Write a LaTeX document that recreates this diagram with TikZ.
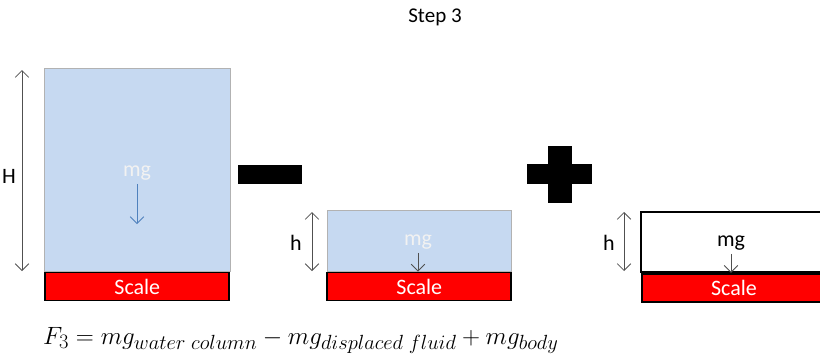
\documentclass[tikz,border=0pt]{standalone}
\usepackage{fix-cm}
\usepackage[no-math]{fontspec}
\setmainfont{Carlito}
\DeclareMathSizes{25}{25}{20.5}{15}
\usetikzlibrary{positioning,arrows.meta}
\definecolor{waterblue}{HTML}{C6D9F1}
\definecolor{scalered}{HTML}{FF0000}
\definecolor{dimgray}{HTML}{505050}
\definecolor{forceblue}{HTML}{4F81BD}

\begin{document}
\begin{tikzpicture}[
  x=1pt, y=-1pt,
  font=\fontsize{22}{26}\selectfont,
  water/.style={rectangle, draw=black!30, line width=0.6pt, fill=waterblue, inner sep=0pt},
  body/.style={rectangle, draw=black, line width=1.8pt, fill=white, inner sep=0pt},
  scalebox/.style={rectangle, draw=black, line width=1.8pt, fill=scalered, text=white, inner sep=0pt, minimum width=184pt, minimum height=28pt},
  dim/.style={{Straight Barb[length=2.4mm]}-{Straight Barb[length=2.4mm]}, draw=dimgray, line width=0.8pt},
  fl/.style={-{Straight Barb[length=2.4mm]}, line width=0.8pt},
  sign/.style={rectangle, fill=black, inner sep=0pt}
]
\clip (0,0) rectangle (820,354);
\node[font=\fontsize{21}{25}\selectfont] (title) at (435,17) {Step 3};
\node[water, minimum width=186pt, minimum height=203pt, anchor=north west] (col) at (44,68) {};
\node[scalebox, below=0pt of col] (sc1) {Scale};
\node[water, minimum width=184pt, minimum height=61pt, anchor=north west] (disp) at (327,210) {};
\node[scalebox, below=0pt of disp] (sc2) {Scale};
\node[body, minimum width=186pt, minimum height=60pt, anchor=north west] (bdy) at (640,211) {};
\node[scalebox, below=0pt of bdy] (sc3) {Scale};
\node[text=white!95!black] (mg1) at (137,173) {mg};
\node[text=white!95!black] (mg2) at (418,242) {mg};
\node (mg3) at (731,243) {mg};
\coordinate (f1) at (137,224);
\draw[fl, forceblue] (mg1) -- (f1);
\draw[fl, dimgray] (mg2) -- (mg2 |- sc2.north);
\draw[fl, dimgray] (mg3) -- (mg3 |- sc3.north);
\coordinate (Ht) at (22,70);
\coordinate (Hb) at (22,271);
\coordinate (ht2) at (312,212);
\coordinate (hb2) at (312,271);
\coordinate (ht3) at (624,212);
\coordinate (hb3) at (624,271);
\draw[dim] (Ht) -- (Hb);
\draw[dim] (ht2) -- (hb2);
\draw[dim] (ht3) -- (hb3);
\node (lH) at (9,176) {H};
\node (lh2) at (296,243) {h};
\node (lh3) at (609,243) {h};
\node[sign, minimum width=64pt, minimum height=19pt] (minus) at (270,174) {};
\node[sign, minimum width=65pt, minimum height=20pt] (plush) at (559.5,174) {};
\node[sign, minimum width=24pt, minimum height=57pt] (plusv) at (560,174.5) {};
\node[anchor=base west, inner sep=0pt, font=\fontsize{25}{29}\selectfont] (eq) at (43,344) {$F_3 = mg_{water\ column} - mg_{displaced\ fluid} + mg_{body}$};
\end{tikzpicture}
\end{document}
